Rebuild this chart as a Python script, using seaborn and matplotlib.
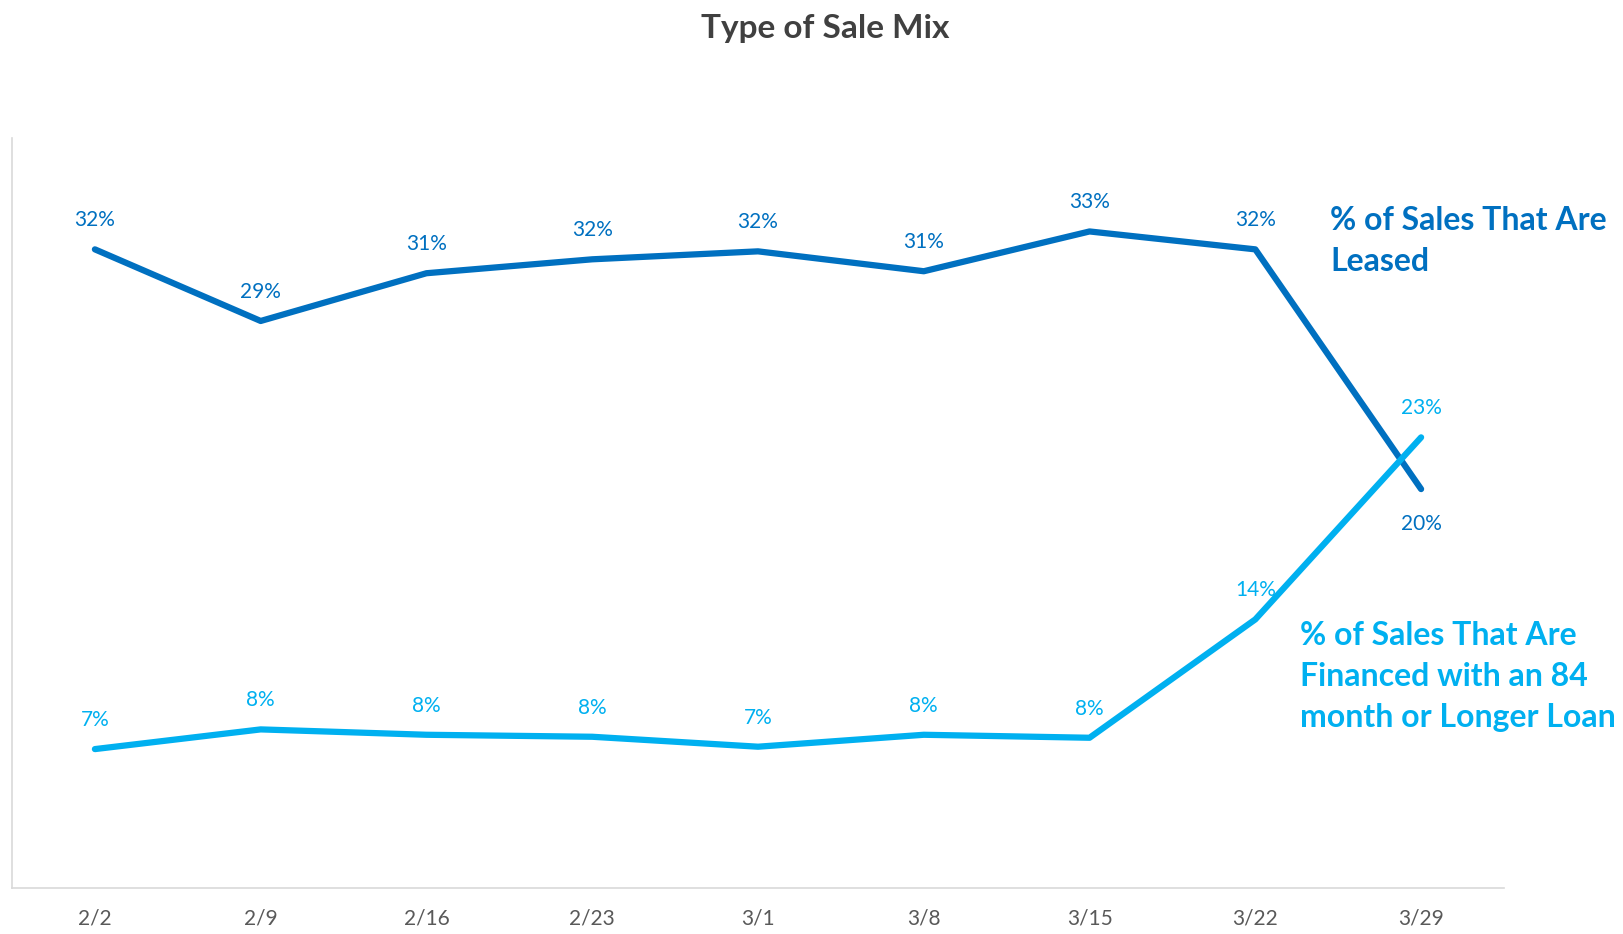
import pandas as pd
import matplotlib
matplotlib.use('Agg')
import matplotlib.pyplot as plt
import seaborn as sns

# chart data
weeks = ['2/2', '2/9', '2/16', '2/23', '3/1', '3/8', '3/15', '3/22', '3/29']
leased = [0.321, 0.285, 0.309, 0.316, 0.320, 0.310, 0.330, 0.321, 0.2005]
financed_84 = [0.0698, 0.0797, 0.077, 0.076, 0.071, 0.077, 0.0755, 0.135, 0.2265]
leased_labels = ['32%', '29%', '31%', '32%', '32%', '31%', '33%', '32%', '20%']
financed_labels = ['7%', '8%', '8%', '8%', '7%', '8%', '8%', '14%', '23%']

dark_blue = '#0070C0'
light_blue = '#00B0F0'

sns.set_style('white')
plt.rcParams['font.family'] = ['Lato', 'DejaVu Sans']

df = pd.DataFrame({
    'week': weeks * 2,
    'pos': list(range(len(weeks))) * 2,
    'share': leased + financed_84,
    'series': ['leased'] * len(weeks) + ['financed'] * len(weeks),
})

fig = plt.figure(figsize=(16.24, 9.34), dpi=100)
ax = fig.add_axes([0.0074, 0.0493, 0.9187, 0.8030])

sns.lineplot(data=df, x='pos', y='share', hue='series',
             palette={'leased': dark_blue, 'financed': light_blue},
             linewidth=4.5, legend=False, ax=ax, solid_capstyle='round')

# data labels
for i, (v, lab) in enumerate(zip(leased, leased_labels)):
    off = -25 if i == len(weeks) - 1 else 21
    ax.annotate(lab, (i, v), xytext=(0, off), textcoords='offset points',
                ha='center', va='center', color=dark_blue, fontsize=15)
for i, (v, lab) in enumerate(zip(financed_84, financed_labels)):
    ax.annotate(lab, (i, v), xytext=(0, 21), textcoords='offset points',
                ha='center', va='center', color=light_blue, fontsize=15)

# series names next to the lines
ax.text(7.45, 0.343, '% of Sales That Are\nLeased', color=dark_blue,
        fontsize=23, fontweight='bold', va='top', ha='left',
        linespacing=1.5, clip_on=False)
ax.text(7.27, 0.134, '% of Sales That Are\nFinanced with an 84\nmonth or Longer Loan',
        color=light_blue, fontsize=23, fontweight='bold', va='top', ha='left',
        linespacing=1.5, clip_on=False)

ax.set_xlim(-0.5, 8.5)
ax.set_ylim(0, 0.377)
ax.set_xticks(range(len(weeks)))
ax.set_xticklabels(weeks, fontsize=15, color='#595959')
ax.tick_params(axis='x', length=0, pad=15)
ax.set_yticks([])
ax.set_xlabel('')
ax.set_ylabel('')
for side in ['top', 'right']:
    ax.spines[side].set_visible(False)
for side in ['left', 'bottom']:
    ax.spines[side].set_color('#D9D9D9')
    ax.spines[side].set_linewidth(1.2)

fig.text(0.508, 0.97, 'Type of Sale Mix', ha='center', va='center',
         fontsize=24, fontweight='bold', color='#404040')

fig.savefig('out.png', dpi=100)
